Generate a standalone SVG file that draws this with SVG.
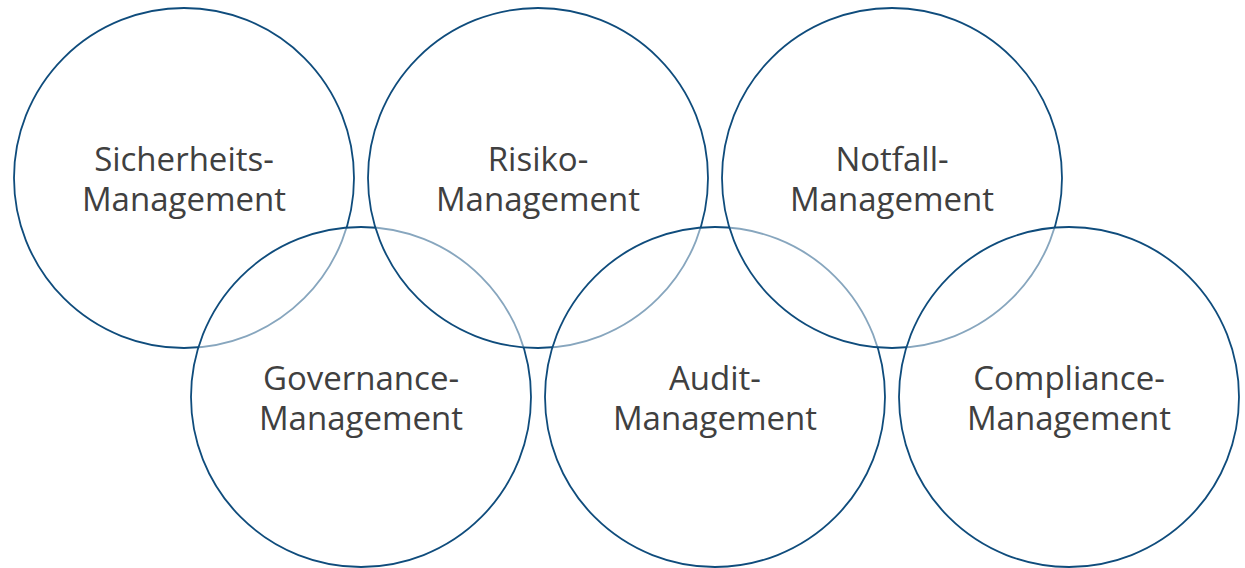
<svg xmlns="http://www.w3.org/2000/svg" width="1245" height="568" viewBox="0 0 1245 568">
<style>
.c{fill:#ffffff;fill-opacity:0.5;stroke:#0f4c7c;stroke-width:1.8}
.t{font-family:"Open Sans","Noto Sans",sans-serif;font-size:33px;fill:#404040;text-anchor:middle}
</style>
<rect width="1245" height="568" fill="#ffffff"/>
<g id="sicherheits"><circle class="c" cx="184" cy="178" r="170"/><text class="t" x="184" y="171">Sicherheits-</text><text class="t" x="184" y="211">Management</text></g>
<g id="governance"><circle class="c" cx="361" cy="397" r="170"/><text class="t" x="361" y="390">Governance-</text><text class="t" x="361" y="430">Management</text></g>
<g id="risiko"><circle class="c" cx="538" cy="178" r="170"/><text class="t" x="538" y="171">Risiko-</text><text class="t" x="538" y="211">Management</text></g>
<g id="audit"><circle class="c" cx="715" cy="397" r="170"/><text class="t" x="715" y="390">Audit-</text><text class="t" x="715" y="430">Management</text></g>
<g id="notfall"><circle class="c" cx="892" cy="178" r="170"/><text class="t" x="892" y="171">Notfall-</text><text class="t" x="892" y="211">Management</text></g>
<g id="compliance"><circle class="c" cx="1069" cy="397" r="170"/><text class="t" x="1069" y="390">Compliance-</text><text class="t" x="1069" y="430">Management</text></g>
<g id="connectors"/>
</svg>
